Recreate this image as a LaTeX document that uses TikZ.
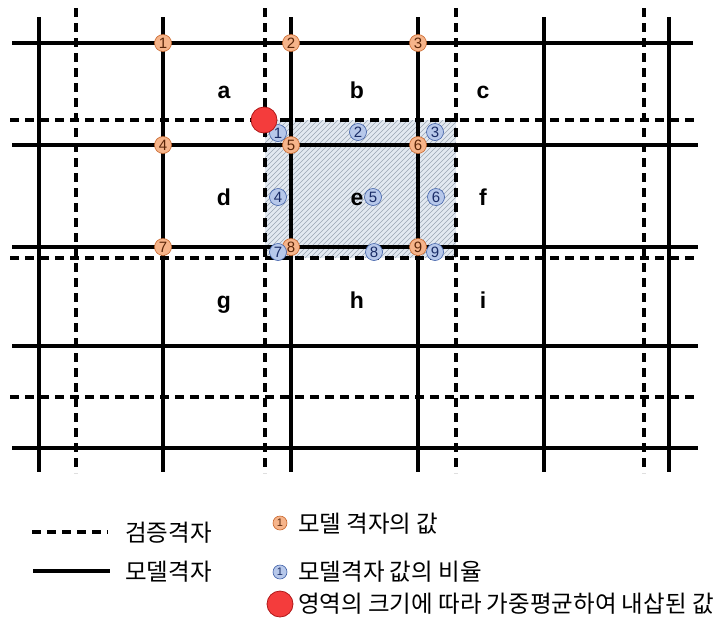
\documentclass[tikz,border=0pt]{standalone}
\usepackage{fontspec}
\setmainfont{Liberation Sans}
\newfontfamily\krfont{Noto Sans CJK KR}

\definecolor{valfill}{HTML}{F6B48A}
\definecolor{valedge}{HTML}{C8652A}
\definecolor{valtext}{HTML}{5A2508}
\definecolor{ratfill}{HTML}{B7C8EA}
\definecolor{ratedge}{HTML}{3E5FA8}
\definecolor{rattext}{HTML}{1A2C66}
\definecolor{ipfill}{HTML}{F43C3C}
\definecolor{ipedge}{HTML}{B01818}
\definecolor{areafill}{HTML}{E3E9F1}
\definecolor{hatchcol}{HTML}{9AA5B3}

\begin{document}
\begin{tikzpicture}[
    x=1pt, y=-1pt,
    model line/.style={line width=3.4pt},
    check line/.style={line width=3.4pt, dash pattern=on 9pt off 6pt},
    hatch line/.style={line width=0.6pt, hatchcol},
    model val/.style={circle, draw=valedge, fill=valfill, line width=0.6pt, inner sep=0pt, minimum size=17pt, text=valtext, font=\fontsize{15}{15}\selectfont},
    ratio val/.style={circle, draw=ratedge, fill=ratfill, line width=0.6pt, inner sep=0pt, minimum size=17pt, text=rattext, font=\fontsize{15}{15}\selectfont},
    interp pt/.style={circle, draw=ipedge, fill=ipfill, line width=0.8pt, inner sep=0pt, minimum size=26pt},
    cell label/.style={anchor=base, font=\fontsize{23}{23}\selectfont\bfseries},
    legend text/.style={anchor=west, inner sep=0pt, font=\krfont\fontsize{23.5}{24}\selectfont},
]
\useasboundingbox (0,0) rectangle (728,625);

% Overlap area (hatched)
\fill[areafill] (265,120) rectangle (456,258);
\begin{scope}
  \clip (265,120) rectangle (456,258);
  \foreach \k in {0,...,70}
    \draw[hatch line] (125+\k*5,258) -- ++(140,-140);
\end{scope}

% Model grid, vertical
\draw[model line] (39,17) -- (39,472);
\draw[model line] (163,17) -- (163,472);
\draw[model line] (291,17) -- (291,472);
\draw[model line] (418,17) -- (418,472);
\draw[model line] (544,17) -- (544,472);
\draw[model line] (669,17) -- (669,472);

% Model grid, horizontal
\draw[model line] (12,43) -- (693,43);
\draw[model line] (12,145) -- (698,145);
\draw[model line] (12,247) -- (698,247);
\draw[model line] (12,346) -- (698,346);
\draw[model line] (12,448) -- (698,448);

% Check grid, vertical
\draw[check line] (76,8) -- (76,473);
\draw[check line] (265,8) -- (265,473);
\draw[check line] (456,8) -- (456,473);
\draw[check line] (644,8) -- (644,473);

% Check grid, horizontal
\draw[check line] (10,120) -- (697,120);
\draw[check line] (10,258) -- (697,258);
\draw[check line] (10,397) -- (697,397);

% Cell labels
\node[cell label] (ca) at (224,98) {a};
\node[cell label] (cb) at (357,98) {b};
\node[cell label] (cc) at (483,98) {c};
\node[cell label] (cd) at (224,205) {d};
\node[cell label] (ce) at (357,205) {e};
\node[cell label] (cf) at (483,205) {f};
\node[cell label] (cg) at (224,308) {g};
\node[cell label] (ch) at (357,308) {h};
\node[cell label] (ci) at (483,308) {i};

% Model grid values
\node[model val] (m1) at (163,43) {1};
\node[model val] (m2) at (291,43) {2};
\node[model val] (m3) at (418,43) {3};
\node[model val] (m4) at (163,145) {4};
\node[model val] (m5) at (291,145) {5};
\node[model val] (m6) at (418,145) {6};
\node[model val] (m7) at (163,247) {7};
\node[model val] (m8) at (291,247) {8};
\node[model val] (m9) at (418,247) {9};

% Area ratios
\node[ratio val] (r1) at (278,133) {1};
\node[ratio val] (r2) at (358,132) {2};
\node[ratio val] (r3) at (435,132) {3};
\node[ratio val] (r4) at (278,197) {4};
\node[ratio val] (r5) at (373,197) {5};
\node[ratio val] (r6) at (436,197) {6};
\node[ratio val] (r7) at (278,252) {7};
\node[ratio val] (r8) at (374,252) {8};
\node[ratio val] (r9) at (435,252) {9};

% Interpolated point
\node[interp pt] (ip) at (264,120) {};

% Legend
\coordinate (ld1) at (32,532);
\coordinate (ld2) at (108,532);
\coordinate (ls1) at (33,571);
\coordinate (ls2) at (110,571);
\draw[check line] (ld1) -- (ld2);
\draw[model line] (ls1) -- (ls2);
\node[legend text] (lt1) at (125,533) {검증격자};
\node[legend text] (lt2) at (125,572) {모델격자};

\node[model val, minimum size=14pt, font=\fontsize{11}{11}\selectfont] (lm) at (280,523) {1};
\node[legend text] (lt3) at (298,524) {모델 격자의 값};
\node[ratio val, minimum size=14pt, font=\fontsize{11}{11}\selectfont] (lr) at (280,572) {1};
\node[legend text] (lt4) at (298,572) {모델격자 값의 비율};
\node[interp pt] (lp) at (280,604) {};
\node[legend text] (lt5) at (298,604) {영역의 크기에 따라 가중평균하여 내삽된 값};

\end{tikzpicture}
\end{document}
